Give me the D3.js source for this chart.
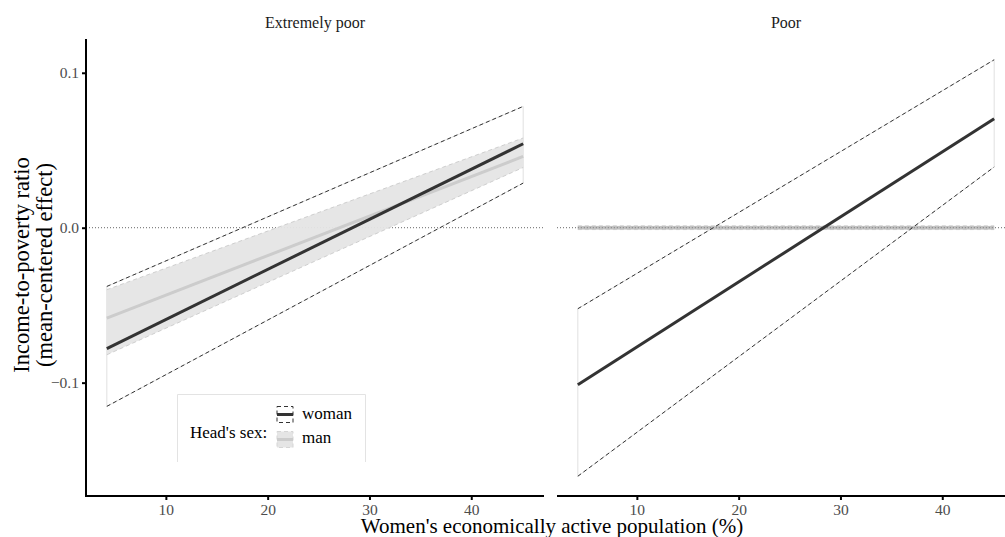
<!DOCTYPE html>
<html>
<head>
<meta charset="utf-8">
<script src="https://cdn.jsdelivr.net/npm/d3@7"></script>
<style>
  html, body { margin: 0; padding: 0; background: #fff; overflow: hidden; }
  svg { display: block; }
  text { font-family: "Liberation Serif", "DejaVu Serif", serif; }
</style>
</head>
<body>
<svg id="chart" width="1005" height="537"></svg>
<script>
// Facets and x range of the fitted lines
const panels = ["Extremely poor", "Poor"];
const xEnds = [4.2, 45.1];

// Predicted effects at the two ends of the x range, per facet
const womanFit  = [[-0.0780, 0.0542], [-0.1013, 0.0703]];
const womanLow  = [[-0.1153, 0.0288], [-0.1604, 0.0392]];
const womanHigh = [[-0.0379, 0.0783], [-0.0523, 0.1084]];
const manFit    = [[-0.0583, 0.0460], [0.0000, 0.0000]];
const manLow    = [[-0.0820, 0.0389], [-0.0012, -0.0012]];
const manHigh   = [[-0.0400, 0.0579], [0.0012, 0.0012]];

const xTicks = [10, 20, 30, 40];
const yTicks = [-0.1, 0.0, 0.1];
const legendLabels = ["woman", "man"];

const svg = d3.select("#chart");

const panelW = 458, panelTop = 39, panelH = 458;
const panelLeft = [86, 557];

const xDom = [2.155, 47.145];
const yDom = [-0.1738, 0.1218];

const y = d3.scaleLinear().domain(yDom).range([panelTop + panelH, panelTop]);

const dark = "#333333";
const manLine = "#cccccc";
const manFill = "#e5e5e5";
const tickFont = "15.5px";

panels.forEach((name, i) => {
  const x = d3.scaleLinear().domain(xDom).range([panelLeft[i], panelLeft[i] + panelW]);
  const g = svg.append("g");

  const pts = (lo, hi) => xEnds.map((xv, k) => ({ x: xv, lo: lo[i][k], hi: hi[i][k] }));
  const linePts = arr => xEnds.map((xv, k) => ({ x: xv, v: arr[i][k] }));

  const area = d3.area().x(d => x(d.x)).y0(d => y(d.lo)).y1(d => y(d.hi));
  const line = d3.line().x(d => x(d.x)).y(d => y(d.v));

  // zero reference line
  g.append("line")
    .attr("x1", panelLeft[i]).attr("x2", panelLeft[i] + panelW)
    .attr("y1", y(0)).attr("y2", y(0))
    .attr("stroke", "#666").attr("stroke-width", 1)
    .attr("stroke-dasharray", "1,2");

  // woman interval: no fill, thin outline closing the ends
  g.append("path").datum(pts(womanLow, womanHigh))
    .attr("d", area)
    .attr("fill", "none")
    .attr("stroke", "#e0e0e0").attr("stroke-width", 1);

  // man interval
  g.append("path").datum(pts(manLow, manHigh))
    .attr("d", area)
    .attr("fill", manFill).attr("fill-opacity", 0.95);
  [manLow, manHigh].forEach(arr => {
    g.append("path").datum(linePts(arr))
      .attr("d", line).attr("fill", "none")
      .attr("stroke", "#cfcfcf").attr("stroke-width", 1)
      .attr("stroke-dasharray", "4,3");
  });

  if (i === 1) {
    // narrow band around zero with the dotted reference line on top
    g.append("line")
      .attr("x1", x(xEnds[0])).attr("x2", x(xEnds[1]))
      .attr("y1", y(0)).attr("y2", y(0))
      .attr("stroke", "#c2c2c2").attr("stroke-width", 3.5);
    g.append("line")
      .attr("x1", x(xEnds[0])).attr("x2", x(xEnds[1]))
      .attr("y1", y(0)).attr("y2", y(0))
      .attr("stroke", "#777").attr("stroke-width", 1)
      .attr("stroke-dasharray", "1,2");
  } else {
    g.append("path").datum(linePts(manFit))
      .attr("d", line).attr("fill", "none")
      .attr("stroke", manLine).attr("stroke-width", 3);
  }

  // woman interval bounds
  [womanLow, womanHigh].forEach(arr => {
    g.append("path").datum(linePts(arr))
      .attr("d", line).attr("fill", "none")
      .attr("stroke", dark).attr("stroke-width", 1)
      .attr("stroke-dasharray", "4,3");
  });

  // woman fitted line
  g.append("path").datum(linePts(womanFit))
    .attr("d", line).attr("fill", "none")
    .attr("stroke", dark).attr("stroke-width", 3);

  // x axis
  const xa = g.append("g")
    .attr("transform", `translate(0,${panelTop + panelH - 1})`)
    .call(d3.axisBottom(x).tickValues(xTicks).tickFormat(d3.format("d")).tickSize(4).tickPadding(4));
  xa.attr("font-size", null).attr("font-family", null);
  xa.select(".domain").attr("stroke", "#000").attr("stroke-width", 2)
    .attr("d", `M${panelLeft[i]},0H${panelLeft[i] + panelW}`);
  xa.selectAll(".tick line").attr("stroke", "#000").attr("stroke-width", 2);
  xa.selectAll(".tick text").attr("fill", "#4d4d4d")
    .attr("font-size", tickFont).attr("dy", "0.68em");

  // strip label
  g.append("text")
    .attr("x", panelLeft[i] + panelW / 2).attr("y", 28)
    .attr("text-anchor", "middle")
    .attr("font-size", "16px").attr("fill", "#1a1a1a")
    .text(name);

  if (i === 0) {
    const ya = g.append("g")
      .attr("transform", `translate(${panelLeft[0]},0)`)
      .call(d3.axisLeft(y).tickValues(yTicks).tickFormat(d3.format(".1f")).tickSize(4).tickPadding(3));
    ya.attr("font-size", null).attr("font-family", null);
    ya.select(".domain").attr("stroke", "#000").attr("stroke-width", 2)
      .attr("d", `M0,${panelTop}V${panelTop + panelH}`);
    ya.selectAll(".tick line").attr("stroke", "#000").attr("stroke-width", 2);
    ya.selectAll(".tick text").attr("fill", "#4d4d4d")
      .attr("font-size", tickFont);
  }
});

// axis titles
svg.append("text")
  .attr("x", 552).attr("y", 533)
  .attr("text-anchor", "middle").attr("font-size", "21px").attr("fill", "#000")
  .text("Women's economically active population (%)");

const yt = svg.append("text")
  .attr("transform", `translate(29,${panelTop + panelH / 2 - 3}) rotate(-90)`)
  .attr("text-anchor", "middle").attr("font-size", "22.5px").attr("fill", "#000");
yt.append("tspan").attr("x", 0).attr("dy", 0).text("Income-to-poverty ratio");
yt.append("tspan").attr("x", 0).attr("dy", 23).text("(mean-centered effect)");

// legend
const lg = svg.append("g");
lg.append("path")
  .attr("d", "M177.5,462V394.5H365.5V462")
  .attr("fill", "none").attr("stroke", "#e3e3e3").attr("stroke-width", 1);
lg.append("text").attr("x", 190).attr("y", 438)
  .attr("font-size", "17px").attr("fill", "#000").text("Head's sex:");

// woman key
const kx = 277, kw = 16, kh = 16;
lg.append("rect").attr("x", kx).attr("y", 406.5).attr("width", kw).attr("height", kh)
  .attr("fill", "#fff").attr("stroke", dark).attr("stroke-width", 1)
  .attr("stroke-dasharray", "4,3");
lg.append("line").attr("x1", kx).attr("x2", kx + kw).attr("y1", 414.5).attr("y2", 414.5)
  .attr("stroke", dark).attr("stroke-width", 3);
// man key
lg.append("rect").attr("x", kx).attr("y", 431.5).attr("width", kw).attr("height", kh)
  .attr("fill", manFill).attr("stroke", "#d5d5d5").attr("stroke-width", 1)
  .attr("stroke-dasharray", "4,3");
lg.append("line").attr("x1", kx).attr("x2", kx + kw).attr("y1", 439.5).attr("y2", 439.5)
  .attr("stroke", manLine).attr("stroke-width", 3);

lg.selectAll("text.lab").data(legendLabels).join("text")
  .attr("class", "lab")
  .attr("x", 302).attr("y", (d, k) => 419 + k * 24)
  .attr("font-size", "17px").attr("fill", "#000")
  .text(d => d);
</script>
</body>
</html>
